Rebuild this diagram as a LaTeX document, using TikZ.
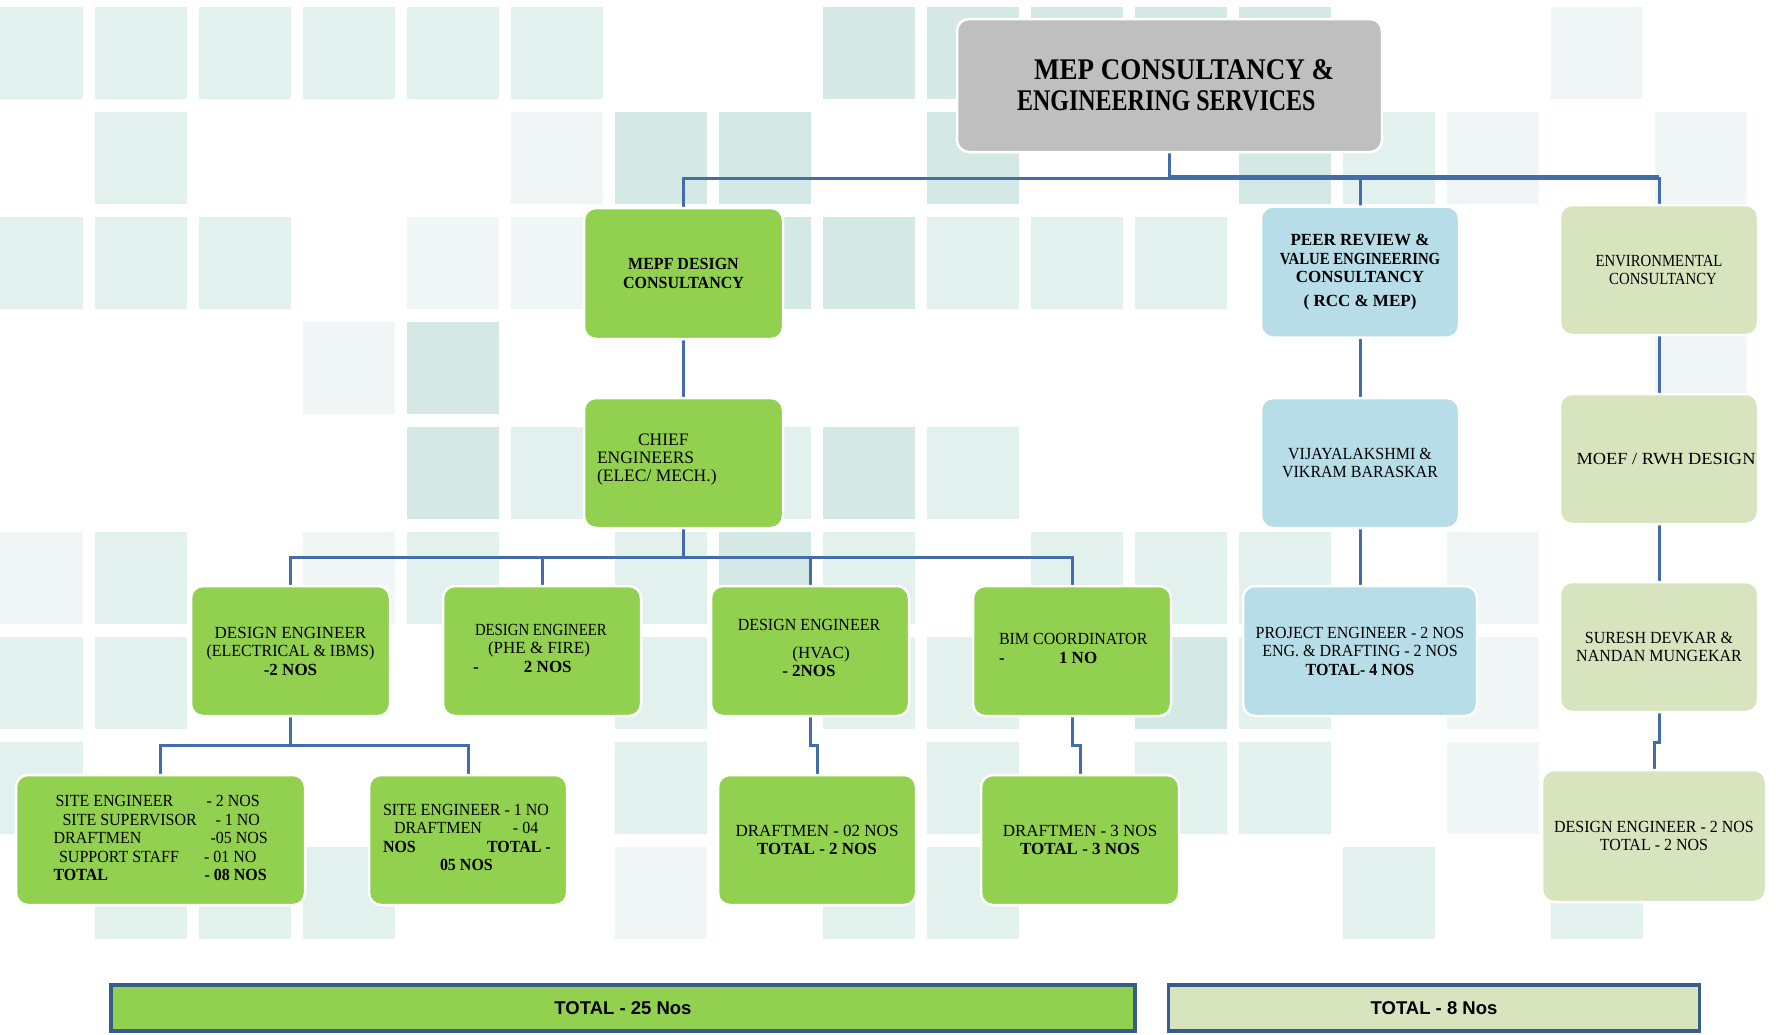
\documentclass[tikz,border=0pt]{standalone}
\usepackage{fontspec}
\setmainfont{Liberation Serif}
\newfontfamily\cond{Liberation Serif}[FakeStretch=0.87]
\newfontfamily\semi{Liberation Serif}[FakeStretch=0.94]
\newfontfamily\wide{Liberation Serif}[FakeStretch=1.08]
\newfontfamily\tA{Liberation Serif}[FakeStretch=0.90]
\newfontfamily\tB{Liberation Serif}[FakeStretch=0.80]
\newfontfamily\barfont{Liberation Sans}
\pgfdeclarelayer{bg}
\pgfsetlayers{bg,main}
\definecolor{cgreen}{RGB}{146,208,80}
\definecolor{cblue}{RGB}{183,221,232}
\definecolor{cpale}{RGB}{215,228,189}
\definecolor{cgray}{RGB}{191,191,191}
\definecolor{cline}{RGB}{66,108,170}
\definecolor{cbar}{RGB}{56,93,138}
\definecolor{tileL}{RGB}{226,240,238}
\definecolor{tileM}{RGB}{212,233,230}
\definecolor{tileF}{RGB}{239,246,245}
\newcommand\fs{\fontsize{17}{18.5}\selectfont}
\begin{document}
\begin{tikzpicture}[x=1pt,y=-1pt,
  every node/.style={inner sep=0pt,outer sep=0pt,text=black},
  box/.style={rounded corners=12pt,draw=white,line width=2.5pt,align=center,
    minimum width=198,minimum height=130,font=\fs},
  txt/.style={align=left,anchor=west},
  conn/.style={draw=cline,line width=3pt},
  bar/.style={draw=cbar,line width=3.5pt,minimum height=46,
    font=\barfont\bfseries\fontsize{18.5}{21}\selectfont}]
\useasboundingbox (0,0) rectangle (1776,1034);
% ---------- boxes ----------
\node[box,fill=cgray,minimum width=425,minimum height=133] (title) at (1169.5,85.5) {};
\node[txt,font=\bfseries\fontsize{30}{31}\selectfont] (titlet) at (1017,85)
  {{\tA\hspace*{17pt}MEP CONSULTANCY \&}\\{\tB ENGINEERING SERVICES}};
\node[box,fill=cgreen,minimum width=199,minimum height=131,font=\semi\bfseries\fs] (mepf) at (683.5,273.5)
  {MEPF DESIGN\\CONSULTANCY};
\node[box,fill=cblue,minimum height=131,font=\bfseries\fs] (peer) at (1360,272)
  {PEER REVIEW \&\\{\cond VALUE ENGINEERING}\\CONSULTANCY\\[5pt]( RCC \& MEP)};
\node[box,fill=cpale,font=\cond\fs] (env) at (1659,270)
  {ENVIRONMENTAL\\\hspace*{8pt}CONSULTANCY};
\node[box,fill=cgreen,minimum width=199] (chief) at (683.5,463) {};
\node[txt,font=\fontsize{17.5}{18}\selectfont] (chieft) at (597,460)
  {\hspace*{41pt}CHIEF\\ENGINEERS\\(ELEC/ MECH.)};
\node[box,fill=cblue,font=\semi\fs] (vijay) at (1360,463)
  {VIJAYALAKSHMI \&\\VIKRAM BARASKAR};
\node[box,fill=cpale,font=\wide\fs] (moef) at (1659,459) {\hspace*{14pt}MOEF / RWH DESIGN};
% level 3
\node[box,fill=cgreen,minimum width=199] (deelec) at (290.5,651)
  {DESIGN ENGINEER\\{\semi (ELECTRICAL \& IBMS)}\\\textbf{-2 NOS}};
\node[box,fill=cgreen] (dephe) at (542,651) {};
\node[txt,font=\fs] (dephet) at (473,648)
  {\hspace*{2pt}{\cond DESIGN ENGINEER}\\\hspace*{15pt}(PHE \& FIRE)\\\textbf{\makebox[51pt][l]{-}2 NOS}};
\node[box,fill=cgreen] (dehvac) at (810,651) {};
\node[align=center,font=\fs] (dehvact) at (809,648)
  {{\semi DESIGN ENGINEER}\\[9pt]\hspace*{24pt}(HVAC)\\\textbf{- 2NOS}};
\node[box,fill=cgreen] (bim) at (1072,651) {};
\node[txt,font=\fs] (bimt) at (999,648.5)
  {{\semi BIM COORDINATOR}\\\textbf{\makebox[60pt][l]{-}1 NO}};
\node[box,fill=cblue,minimum width=234,font=\semi\fs] (proj) at (1360,651)
  {PROJECT ENGINEER - 2 NOS\\ENG. \& DRAFTING - 2 NOS\\\textbf{TOTAL- 4 NOS}};
\node[box,fill=cpale,font=\semi\fs] (suresh) at (1659,647)
  {SURESH DEVKAR \&\\NANDAN MUNGEKAR};
% level 4
\node[box,fill=cgreen,minimum width=289] (site1) at (160.5,840) {};
\node[txt,font=\semi\fs] (site1t) at (53.6,838)
  {\hspace*{2pt}\makebox[151pt][l]{SITE ENGINEER}- 2 NOS\\
   \hspace*{9pt}\makebox[153pt][l]{SITE SUPERVISOR}- 1 NO\\
   \makebox[157pt][l]{DRAFTMEN}-05 NOS\\
   \hspace*{5.5pt}\makebox[145pt][l]{SUPPORT STAFF}- 01 NO\\
   \textbf{\makebox[151pt][l]{TOTAL}- 08 NOS}};
\node[box,fill=cgreen] (site2) at (468,840) {};
\node[txt,font=\semi\fs] (site2t) at (383,837.5)
  {SITE ENGINEER - 1 NO\\
   \hspace*{11pt}\makebox[119pt][l]{DRAFTMEN}- 04\\
   \textbf{\makebox[104pt][l]{NOS}TOTAL -}\\
   \hspace*{57pt}\textbf{05 NOS}};
\node[box,fill=cgreen] (dm2) at (817,840) {DRAFTMEN - 02 NOS\\\textbf{TOTAL - 2 NOS}};
\node[box,fill=cgreen] (dm3) at (1080,840) {DRAFTMEN - 3 NOS\\\textbf{TOTAL - 3 NOS}};
\node[box,fill=cpale,minimum width=224,minimum height=132,font=\semi\fs] (de2) at (1654,836)
  {DESIGN ENGINEER - 2 NOS\\TOTAL - 2 NOS};
% totals
\node[bar,fill=cgreen,minimum width=1024] (tot1) at (623,1008) {TOTAL - 25 Nos};
\node[bar,fill=cpale,minimum width=531] (tot2) at (1434,1008) {TOTAL - 8 Nos};
% ---------- background + connectors ----------
\begin{pgfonlayer}{bg}
\fill[white] (0,0) rectangle (1776,1034);
\foreach \c/\r/\s in {0/0/L,1/0/L,2/0/L,3/0/L,4/0/L,5/0/L,8/0/M,9/0/M,10/0/M,11/0/M,12/0/M,15/0/F,
  1/1/L,5/1/F,6/1/M,7/1/M,9/1/M,12/1/M,13/1/L,14/1/F,16/1/F,
  0/2/L,1/2/L,2/2/L,4/2/F,5/2/F,6/2/L,7/2/M,8/2/M,9/2/L,10/2/L,11/2/L,
  3/3/F,4/3/M,16/3/F,
  4/4/M,5/4/L,7/4/L,8/4/M,9/4/L,
  0/5/F,1/5/L,3/5/F,4/5/L,6/5/L,7/5/M,8/5/L,10/5/L,11/5/L,12/5/L,14/5/F,
  0/6/L,1/6/L,6/6/L,8/6/L,9/6/L,11/6/M,12/6/L,14/6/F,
  0/7/L,6/7/L,9/7/L,11/7/L,12/7/L,14/7/F,
  1/8/L,2/8/L,3/8/L,6/8/F,8/8/L,9/8/L,13/8/L,15/8/L}
  \fill[fill=tile\s] ({-9+104*\c},{7+105*\r}) rectangle ++(92,92);
% top bus
\draw[conn] (title.south) -- ++(0,26.5) coordinate (b1);
\coordinate (b1r) at (b1 -| env.north);
\draw[conn] (b1) -| (mepf.north);
\draw[conn] (b1) -| (peer.north);
\draw[conn] (b1) -| (env.north);
\draw[draw=cline,line width=4.5pt] ([yshift=0.8pt]b1) -- ([yshift=0.8pt]b1r);
% columns
\draw[conn] (mepf.south) -- (chief.north);
\draw[conn] (peer.south) -- (vijay.north);
\draw[conn] (vijay.south) -- (proj.north);
\draw[conn] (env.south) -- (moef.north);
\draw[conn] (moef.south) -- (suresh.north);
% chief bus
\draw[conn] (chief.south) -- ++(0,29) coordinate (b2);
\draw[conn] (b2) -| (deelec.north);
\draw[conn] (b2) -| (dephe.north);
\draw[conn] (b2) -| (dehvac.north);
\draw[conn] (b2) -| (bim.north);
% level 4
\draw[conn] (deelec.south) -- ++(0,29) coordinate (b3);
\draw[conn] (b3) -| (site1.north);
\draw[conn] (b3) -| (site2.north);
\draw[conn] (dehvac.south) -- ++(0,29) -| (dm2.north);
\draw[conn] (bim.south) -- ++(0,29) -| (dm3.north);
\draw[conn] (suresh.south) -- ++(0,30) -| (de2.north);
\end{pgfonlayer}
\end{tikzpicture}
\end{document}
